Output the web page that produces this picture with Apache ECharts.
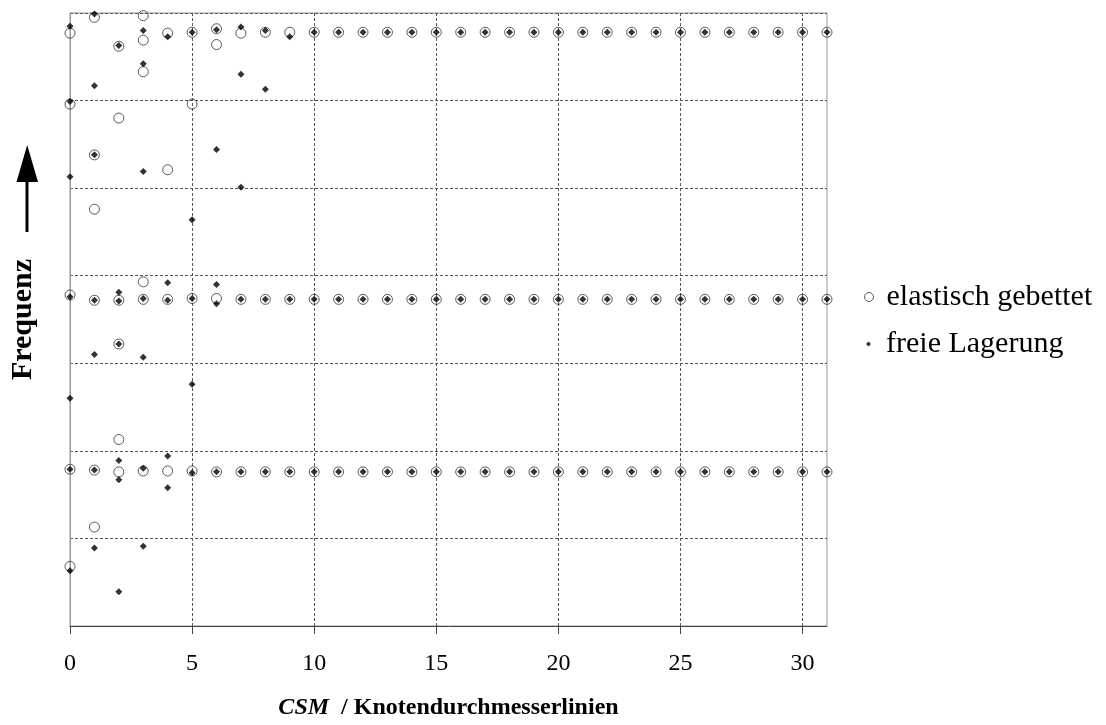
<!DOCTYPE html>
<html><head><meta charset="utf-8">
<script src="https://cdn.jsdelivr.net/npm/echarts@6/dist/echarts.min.js"></script>
<style>html,body{margin:0;padding:0;background:#fff}#c{width:1106px;height:725px}</style>
</head><body><div id="c"></div>
<script>
// CSM / Knotendurchmesserlinien (x categories)
const csm = [0,1,2,3,4,5,6,7,8,9,10,11,12,13,14,15,16,17,18,19,20,21,22,23,24,25,26,27,28,29,30,31];
// elastisch gebettet: frequencies per CSM (relative units)
const elastisch = [
  [6.77, 5.96, 3.78, 1.79, 0.68],
  [6.95, 5.38, 4.76, 3.72, 1.78, 1.13],
  [6.62, 5.80, 3.72, 3.22, 2.13, 1.76],
  [6.97, 6.69, 6.33, 3.93, 3.73, 1.77],
  [6.77, 5.21, 3.73, 1.77],
  [6.78, 5.96, 3.74, 1.77],
  [6.82, 6.64, 3.74, 1.76],
  [6.77, 3.73, 1.76],
  [6.78, 3.73, 1.76],
  [6.78, 3.73, 1.76],
  [6.78, 3.73, 1.76],
  [6.78, 3.73, 1.76],
  [6.78, 3.73, 1.76],
  [6.78, 3.73, 1.76],
  [6.78, 3.73, 1.76],
  [6.78, 3.73, 1.76],
  [6.78, 3.73, 1.76],
  [6.78, 3.73, 1.76],
  [6.78, 3.73, 1.76],
  [6.78, 3.73, 1.76],
  [6.78, 3.73, 1.76],
  [6.78, 3.73, 1.76],
  [6.78, 3.73, 1.76],
  [6.78, 3.73, 1.76],
  [6.78, 3.73, 1.76],
  [6.78, 3.73, 1.76],
  [6.78, 3.73, 1.76],
  [6.78, 3.73, 1.76],
  [6.78, 3.73, 1.76],
  [6.78, 3.73, 1.76],
  [6.78, 3.73, 1.76],
  [6.78, 3.73, 1.76]
];
// freie Lagerung: frequencies per CSM (relative units)
const freieLagerung = [
  [6.85, 5.99, 5.13, 3.76, 2.60, 1.79, 0.63],
  [6.99, 6.17, 5.38, 3.72, 3.10, 1.78, 0.89],
  [6.63, 3.81, 3.71, 3.22, 1.89, 1.67, 0.39],
  [6.80, 6.42, 5.19, 3.74, 3.07, 1.80, 0.91],
  [6.73, 3.92, 3.72, 1.94, 1.58],
  [6.78, 4.64, 3.74, 2.76, 1.75],
  [6.81, 5.44, 3.90, 3.68, 1.76],
  [6.84, 6.30, 5.01, 3.73, 1.76],
  [6.80, 6.13, 3.73, 1.76],
  [6.73, 3.73, 1.76],
  [6.78, 3.73, 1.76],
  [6.78, 3.73, 1.76],
  [6.78, 3.73, 1.76],
  [6.78, 3.73, 1.76],
  [6.78, 3.73, 1.76],
  [6.78, 3.73, 1.76],
  [6.78, 3.73, 1.76],
  [6.78, 3.73, 1.76],
  [6.78, 3.73, 1.76],
  [6.78, 3.73, 1.76],
  [6.78, 3.73, 1.76],
  [6.78, 3.73, 1.76],
  [6.78, 3.73, 1.76],
  [6.78, 3.73, 1.76],
  [6.78, 3.73, 1.76],
  [6.78, 3.73, 1.76],
  [6.78, 3.73, 1.76],
  [6.78, 3.73, 1.76],
  [6.78, 3.73, 1.76],
  [6.78, 3.73, 1.76],
  [6.78, 3.73, 1.76],
  [6.78, 3.73, 1.76]
];
const xTickLabels = [0, 5, 10, 15, 20, 25, 30];
const seriesNames = ['elastisch gebettet', 'freie Lagerung'];

function toPoints(lists) {
  const out = [];
  lists.forEach((vals, i) => vals.forEach(v => out.push([csm[i], v])));
  return out;
}

const serif = "'Liberation Serif', 'Times New Roman', serif";
const dash = { color: '#555', width: 1, type: [3, 2] };

const chart = echarts.init(document.getElementById('c'), null, { renderer: 'canvas' });
chart.setOption({
  animation: false,
  backgroundColor: '#fff',
  grid: { left: 68, right: 279, top: 13, bottom: 98, show: true, borderColor: '#999', borderWidth: 1, backgroundColor: 'transparent' },
  xAxis: {
    type: 'value', min: 0, max: 31, interval: 5,
    axisLine: { lineStyle: { color: '#444', width: 1 } },
    axisTick: { length: 8, lineStyle: { color: '#444' }, customValues: xTickLabels },
    axisLabel: { customValues: xTickLabels, margin: 26, fontFamily: serif, fontSize: 24, color: '#000' },
    splitLine: { show: true, lineStyle: dash },
    name: '{i|CSM}{b|  / Knotendurchmesserlinien}',
    nameLocation: 'middle', nameGap: 70,
    nameTextStyle: {
      rich: {
        i: { fontFamily: serif, fontStyle: 'italic', fontWeight: 'bold', fontSize: 24, color: '#000' },
        b: { fontFamily: serif, fontWeight: 'bold', fontSize: 24, color: '#000' }
      }
    }
  },
  yAxis: {
    type: 'value', min: 0, max: 7, interval: 1,
    axisLine: { show: true, lineStyle: { color: '#999', width: 1 } },
    axisTick: { show: false }, axisLabel: { show: false },
    splitLine: { show: true, lineStyle: dash },
    name: 'Frequenz', nameLocation: 'middle', nameRotate: 90, nameGap: 32,
    nameTextStyle: { fontFamily: serif, fontWeight: 'bold', fontSize: 30, color: '#000' }
  },
  legend: [
    {
      data: [{ name: seriesNames[0], icon: 'circle', itemStyle: { color: 'rgba(255,255,255,0)', borderColor: '#333', borderWidth: 1 } }],
      left: 864, top: 282, padding: 0, itemWidth: 9, itemHeight: 9, selectedMode: false,
      textStyle: { fontFamily: serif, fontSize: 30, color: '#000', lineHeight: 30, padding: [0, 0, 0, 8] }
    },
    {
      data: [{ name: seriesNames[1], icon: 'diamond', itemStyle: { color: '#000' } }],
      left: 866, top: 329, padding: 0, itemWidth: 5, itemHeight: 5, selectedMode: false,
      textStyle: { fontFamily: serif, fontSize: 30, color: '#000', lineHeight: 30, padding: [0, 0, 0, 10] }
    }
  ],
  graphic: [
    { type: 'rect', shape: { x: 25.5, y: 180, width: 3, height: 52 }, style: { fill: '#000' } },
    { type: 'polygon', shape: { points: [[16.5, 182], [38, 182], [27.2, 145]] }, style: { fill: '#000' } }
  ],
  series: [
    {
      name: seriesNames[0], type: 'scatter', symbol: 'circle', symbolSize: 10, z: 2,
      itemStyle: { color: 'rgba(255,255,255,0)', borderColor: '#333', borderWidth: 1 },
      emphasis: { disabled: true }, clip: false,
      data: toPoints(elastisch)
    },
    {
      name: seriesNames[1], type: 'scatter', symbol: 'diamond', symbolSize: 7, z: 3,
      itemStyle: { color: '#000' },
      emphasis: { disabled: true }, clip: false,
      data: toPoints(freieLagerung)
    }
  ]
});
</script></body></html>
